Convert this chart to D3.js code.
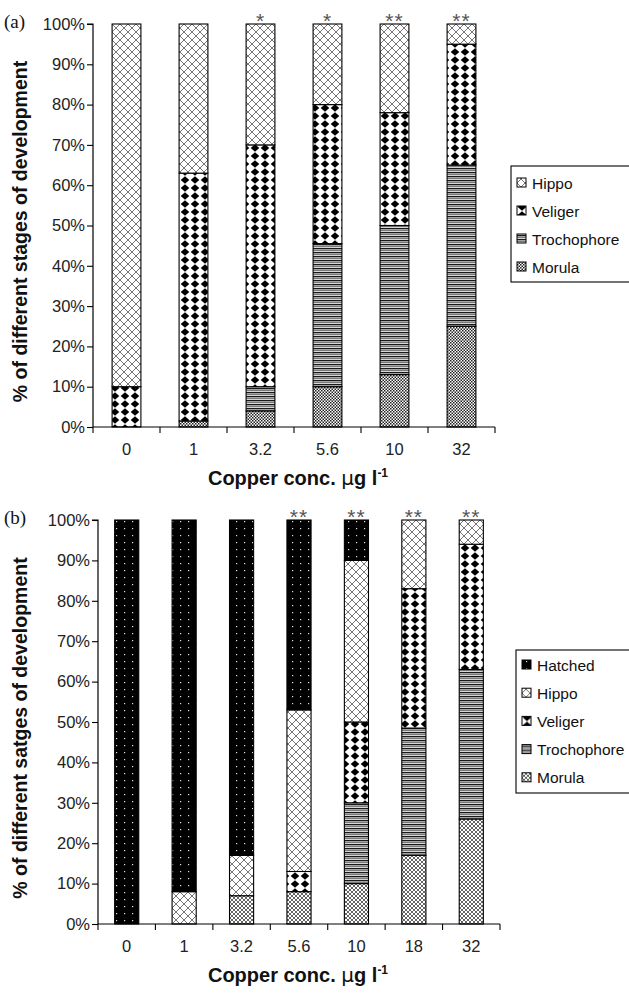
<!DOCTYPE html>
<html><head><meta charset="utf-8">
<script src="https://cdn.jsdelivr.net/npm/d3@7"></script>
<style>body{margin:0;background:#fff}svg{display:block}</style>
</head><body>
<svg id="c" width="629" height="994"></svg>
<script>
// ---------- DATA ----------
const catsA = ["0","1","3.2","5.6","10","32"];
const stagesA = ["Morula","Trochophore","Veliger","Hippo"];
const morulaA      = [0, 1.5, 4, 10, 13, 25];
const trochophoreA = [0, 0, 6, 35.5, 37, 40];
const veligerA     = [10, 61.5, 60, 34.5, 28, 30];
const hippoA       = [90, 37, 30, 20, 22, 5];
const starsA       = ["", "", "*", "*", "**", "**"];

const catsB = ["0","1","3.2","5.6","10","18","32"];
const stagesB = ["Morula","Trochophore","Veliger","Hippo","Hatched"];
const morulaB      = [0, 0, 7, 8, 10, 17, 26];
const trochophoreB = [0, 0, 0, 0, 20, 31.5, 37];
const veligerB     = [0, 0, 0, 5, 20, 34.5, 31];
const hippoB       = [0, 8, 10, 40, 40, 17, 6];
const hatchedB     = [100, 92, 83, 47, 10, 0, 0];
const starsB       = ["", "", "", "**", "**", "**", "**"];

const yTicks = [0,10,20,30,40,50,60,70,80,90,100];

// ---------- PATTERNS ----------
const svg = d3.select("#c");
const defs = svg.append("defs");
function pat(id, w, h, build){
  const p = defs.append("pattern").attr("id", id).attr("patternUnits","userSpaceOnUse")
    .attr("width", w).attr("height", h);
  p.append("rect").attr("width", w).attr("height", h).attr("fill", "#fff");
  build(p); return p;
}
pat("hippo", 8, 8, p => {
  p.append("path").attr("d","M0,0L8,8M8,0L0,8M-1,7L1,9M7,-1L9,1M-1,1L1,-1M7,9L9,7")
   .attr("stroke","#666").attr("stroke-width",0.9).attr("fill","none");
});
pat("veliger", 10, 8, p => {
  p.append("path").attr("d","M5,0.3L9.3,4L5,7.7L0.7,4Z").attr("fill","#000");
});
pat("troch", 10, 4, p => {
  p.append("rect").attr("y",0).attr("width",10).attr("height",1.4).attr("fill","#1a1a1a");
  p.append("rect").attr("y",2).attr("width",10).attr("height",1.3).attr("fill","#7a7a7a");
});
pat("morula", 3, 3, p => {
  p.append("rect").attr("width",1.5).attr("height",1.5).attr("fill","#222");
  p.append("rect").attr("x",1.5).attr("y",1.5).attr("width",1.5).attr("height",1.5).attr("fill","#222");
});
pat("morulaB", 4, 4, p => {
  p.append("path").attr("d","M0,0L4,4M4,0L0,4").attr("stroke","#555").attr("stroke-width",0.9);
});
pat("hatched", 8, 7, p => {
  p.select("rect").attr("fill","#000");
  p.append("rect").attr("x",4).attr("y",3).attr("width",1.2).attr("height",1.2).attr("fill","#ddd");
});

const fillA = {Morula:"url(#morula)", Trochophore:"url(#troch)", Veliger:"url(#veliger)", Hippo:"url(#hippo)"};
const fillB = {Morula:"url(#morulaB)", Trochophore:"url(#troch)", Veliger:"url(#veliger)", Hippo:"url(#hippo)", Hatched:"url(#hatched)"};

const font = "'Liberation Sans', Arial, sans-serif";

function panel(cfg){
  const {cats, stages, values, stars, fills, x0, x1, yTop, yBot, barFrac, label, ytitle, legendItems, legend} = cfg;
  const g = svg.append("g");
  const x = d3.scaleBand().domain(cats).range([x0, x1]).paddingInner(0).paddingOuter(0);
  const y = d3.scaleLinear().domain([0,100]).range([yBot, yTop]);
  const rows = cats.map((c,i) => { const r = {cat:c}; stages.forEach(s => r[s] = values[s][i]); return r; });
  const stack = d3.stack().keys(stages)(rows);
  const bw = x.bandwidth()*barFrac;
  stack.forEach(layer => {
    g.append("g").selectAll("rect").data(layer.filter(d => d[1]-d[0] > 0)).join("rect")
      .attr("x", d => x(d.data.cat) + (x.bandwidth()-bw)/2)
      .attr("width", bw)
      .attr("y", d => y(d[1]))
      .attr("height", d => y(d[0]) - y(d[1]))
      .attr("fill", fills[layer.key])
      .attr("stroke", "#000").attr("stroke-width", 1.1);
  });
  // y axis
  const ya = g.append("g").attr("transform", `translate(${x0},0)`)
    .call(d3.axisLeft(y).tickValues(yTicks).tickFormat(d => d + "%").tickSize(6).tickPadding(2));
  ya.select(".domain").attr("stroke","#000").attr("stroke-width",1.2).attr("d", `M-6,${yTop}H0V${yBot}`);
  ya.selectAll("text").attr("font-family", font).attr("font-size", 16.5).attr("fill","#222");
  ya.selectAll("line").attr("stroke","#000").attr("stroke-width",1.1);
  // x axis
  const xa = g.append("g").attr("transform", `translate(0,${yBot})`);
  xa.append("line").attr("x1", x0).attr("x2", x1).attr("stroke","#000").attr("stroke-width",1.2);
  const bounds = cats.map(c => x(c)).concat([x1]);
  xa.selectAll("line.t").data(bounds).join("line").attr("class","t")
    .attr("x1", d => d).attr("x2", d => d).attr("y1",0).attr("y2",6).attr("stroke","#000").attr("stroke-width",1.1);
  xa.selectAll("text").data(cats).join("text")
    .attr("x", d => x(d) + x.bandwidth()/2).attr("y", 28)
    .attr("text-anchor","middle").attr("font-family", font).attr("font-size", 16.5).attr("fill","#222")
    .text(d => d);
  // stars
  g.selectAll("text.star").data(cats).join("text").attr("class","star")
    .attr("x", d => x(d) + x.bandwidth()/2).attr("y", yTop + 4)
    .attr("text-anchor","middle").attr("font-family", font).attr("font-size", 21).attr("fill","#555")
    .attr("letter-spacing", 1)
    .text((d,i) => stars[i]);
  // panel label
  g.append("text").attr("x", 4).attr("y", yTop + 4).attr("font-family","'Liberation Serif', 'Times New Roman', serif")
    .attr("font-size", 19).attr("fill","#111").text(label);
  // y title
  g.append("text").attr("transform", `translate(27,${(yTop+yBot)/2 + 6}) rotate(-90)`)
    .attr("text-anchor","middle").attr("font-family", font).attr("font-weight","bold")
    .attr("font-size", 19.5).attr("fill","#111").text(ytitle);
  // x title
  const xt = g.append("text").attr("x", 298).attr("y", yBot + 58).attr("text-anchor","middle")
    .attr("font-family", font).attr("font-weight","bold").attr("font-size", 20).attr("fill","#111");
  xt.append("tspan").text("Copper conc.  ");
  xt.append("tspan").attr("font-weight","normal").attr("font-family","'DejaVu Sans', sans-serif").text("μ");
  xt.append("tspan").text("g l");
  xt.append("tspan").attr("font-size", 12).attr("dy", -8).text("-1");
  // legend
  const lg = g.append("g");
  lg.append("rect").attr("x", legend.x).attr("y", legend.y).attr("width", 140).attr("height", legend.h)
    .attr("fill","#fff").attr("stroke","#000").attr("stroke-width",1.1);
  const items = lg.selectAll("g").data(legendItems).join("g")
    .attr("transform", (d,i) => `translate(${legend.x + 6},${legend.y + legend.first + i*legend.step})`);
  items.append("rect").attr("x",0).attr("y",-5).attr("width",9).attr("height",9)
    .attr("fill", d => fills[d]).attr("stroke","#000").attr("stroke-width",1);
  items.append("text").attr("x", 15).attr("y", 5.5).attr("font-family", font).attr("font-size", 15.5)
    .attr("fill","#111").text(d => d);
}

panel({
  cats: catsA, stages: stagesA,
  values: {Morula: morulaA, Trochophore: trochophoreA, Veliger: veligerA, Hippo: hippoA},
  stars: starsA, fills: fillA, x0: 93, x1: 495, yTop: 24, yBot: 427, barFrac: 0.43,
  label: "(a)", ytitle: "% of different stages of development",
  legendItems: ["Hippo","Veliger","Trochophore","Morula"],
  legend: {x: 511, y: 166, h: 116, first: 17, step: 28}
});
panel({
  cats: catsB, stages: stagesB,
  values: {Morula: morulaB, Trochophore: trochophoreB, Veliger: veligerB, Hippo: hippoB, Hatched: hatchedB},
  stars: starsB, fills: fillB, x0: 98, x1: 500, yTop: 520, yBot: 924, barFrac: 0.42,
  label: "(b)", ytitle: "% of different satges of development",
  legendItems: ["Hatched","Hippo","Veliger","Trochophore","Morula"],
  legend: {x: 516, y: 650, h: 143, first: 15, step: 28.2}
});
</script>
</body></html>
